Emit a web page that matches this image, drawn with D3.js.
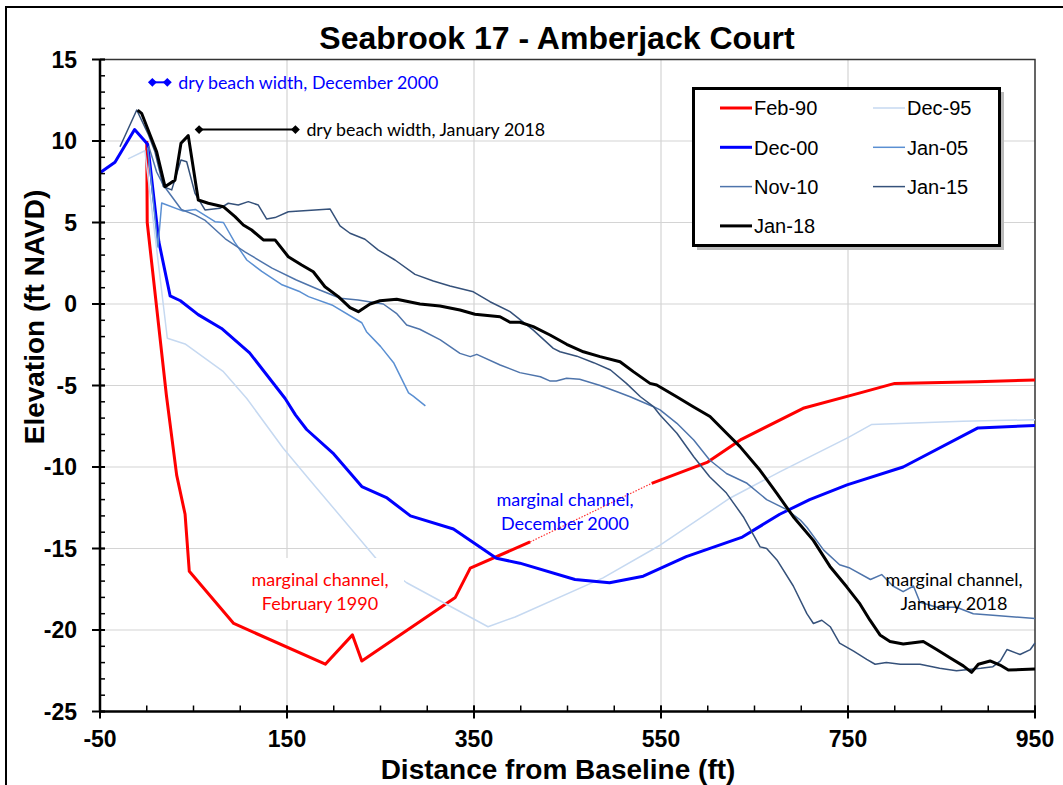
<!DOCTYPE html>
<html>
<head>
<meta charset="utf-8">
<script src="https://cdn.jsdelivr.net/npm/d3@7"></script>
<style>
  body { margin: 0; background: #fff; }
  svg { display: block; }
</style>
</head>
<body>
<div id="chart"></div>
<script>
// profile data, [distance ft, elevation ft NAVD]
const feb90 = [[0,10],[0.5,5],[21,-5.6],[32,-10.5],[41,-12.9],[45.5,-16.4],[93,-19.6],[191,-22.1],[220,-20.3],[230,-21.9],[330,-18.0],[346,-16.2],[410,-14.6],[540,-11.0],[600,-9.7],[636,-8.3],[702,-6.4],[763,-5.45],[800,-4.87],[888,-4.77],[950,-4.66]];
const feb90Dotted = [410, 540]; // stretch drawn dotted
const dec95 = [[-20,8.9],[-2,9.4],[22,-2.1],[41,-2.45],[82,-4.15],[107,-5.8],[146,-8.85],[173,-10.7],[248,-15.8],[278,-17.1],[365,-19.8],[394,-19.2],[488,-16.8],[549,-14.8],[624,-11.9],[677,-10.3],[750,-8.2],[775,-7.4],[873,-7.2],[950,-7.1]];
const dec00 = [[-50,8.05],[-34,8.7],[-13,10.7],[1,9.8],[13,3.8],[25,0.5],[36,0.2],[55,-0.65],[80,-1.5],[110,-3.0],[148,-5.8],[159,-6.8],[171,-7.7],[200,-9.2],[230,-11.2],[257,-11.9],[282,-13.0],[328,-13.8],[374,-15.6],[399,-15.9],[458,-16.9],[495,-17.1],[531,-16.7],[577,-15.5],[637,-14.3],[677,-12.9],[709,-12.0],[749,-11.1],[809,-10.0],[889,-7.6],[950,-7.45]];
const jan05 = [[1,9.6],[12,3.5],[16,6.2],[39,5.7],[52,5.8],[73,5.05],[82,5.0],[94,3.8],[107,2.7],[123,2.0],[144,1.2],[164,0.75],[173,0.45],[198,-0.06],[230,-1.15],[235,-1.7],[250,-2.6],[264,-3.6],[280,-5.45],[285,-5.65],[298,-6.25]];
const nov10 = [[2,9.7],[10.6,8.1],[17.7,7.3],[37,5.8],[52,5.45],[62,5.15],[84,4.0],[105,3.2],[134,2.2],[160,1.47],[185,0.86],[207,0.35],[226,0.25],[253,0.0],[267,-0.57],[278,-1.29],[292,-1.55],[314,-2.2],[335,-3.03],[346,-3.23],[353,-3.09],[378,-3.74],[399,-4.21],[421,-4.46],[431,-4.72],[438,-4.72],[449,-4.56],[463,-4.62],[485,-5.0],[503,-5.38],[517,-5.69],[542,-6.3],[549,-6.5],[567,-7.32],[585,-8.34],[602,-9.57],[620,-10.4],[642,-11.0],[663,-12.0],[677,-12.4],[684,-12.6],[699,-13.25],[706,-13.7],[724,-15.1],[741,-16.0],[752,-16.2],[774,-16.9],[786,-16.6],[798,-17.3],[809,-17.65],[820,-17.3],[827,-18.3],[845,-18.6],[866,-18.6],[884,-19.0],[905,-19.1],[950,-19.3]];
const jan15 = [[-28.6,9.65],[-10.7,11.9],[1.7,10.4],[8.8,9.34],[17.7,7.2],[26.7,7.0],[36.6,8.83],[42.7,8.73],[51.6,6.79],[62.3,5.77],[78.3,5.87],[87.2,6.18],[97.9,6.07],[108.6,6.28],[119.3,6.07],[128.3,5.21],[137.2,5.3],[151.4,5.66],[180,5.77],[196,5.83],[206.7,4.79],[217.4,4.34],[233.4,3.97],[247.7,3.31],[265.5,2.7],[286.9,1.82],[306.5,1.41],[324.3,1.1],[349.3,0.75],[367.1,0.14],[388.5,-0.47],[413.4,-1.6],[434.8,-2.72],[442,-2.93],[460,-3.2],[478,-3.6],[496,-4.05],[513,-4.87],[528,-5.69],[542,-6.3],[549,-6.81],[567,-7.93],[585,-9.37],[602,-10.6],[620,-11.6],[638,-13.05],[656,-14.9],[663,-15.0],[674,-15.7],[691.5,-17.3],[706,-19.0],[713,-19.6],[722,-19.4],[731,-19.8],[741,-20.8],[756,-21.3],[770,-21.8],[779,-22.1],[791,-22.0],[806,-22.1],[827,-22.1],[848,-22.35],[866,-22.5],[892,-22.35],[905,-22.25],[913,-21.9],[920,-21.2],[934,-21.5],[945,-21.2],[950,-20.8]];
const jan18 = [[-9.7,11.9],[-5.5,11.7],[10.6,9.34],[19.5,7.2],[30.2,7.6],[36.6,9.86],[44.4,10.33],[55.1,6.38],[65.8,6.18],[81.9,5.97],[94.4,5.36],[103.3,4.85],[112.2,4.54],[124.7,3.93],[137.2,3.93],[151.4,2.9],[165.7,2.39],[178.1,1.98],[190.6,1.06],[204.9,0.45],[217.4,-0.22],[226.3,-0.47],[238.8,0.0],[249.5,0.2],[267.3,0.29],[292.2,0.0],[313.6,-0.12],[335,-0.37],[351,-0.63],[377.8,-0.78],[388.5,-1.12],[399.2,-1.12],[413.4,-1.39],[431.3,-1.9],[449.1,-2.47],[467,-2.93],[484.8,-3.23],[506.2,-3.54],[520.4,-4.15],[538.2,-4.87],[545.4,-4.97],[566.8,-5.69],[584.5,-6.3],[602.4,-6.9],[620.2,-7.93],[634.5,-8.75],[655.9,-10.2],[673.7,-11.6],[691.5,-13.05],[712.9,-14.5],[730.7,-16.1],[748.6,-17.35],[762.8,-18.4],[773.5,-19.4],[784.2,-20.3],[794.9,-20.7],[809.1,-20.86],[830.5,-20.7],[844.8,-21.2],[859,-21.7],[873.3,-22.2],[882.2,-22.6],[889.4,-22.1],[902,-21.9],[912.6,-22.15],[921.5,-22.45],[950,-22.4]];

const seriesNames = ["Feb-90", "Dec-95", "Dec-00", "Jan-05", "Nov-10", "Jan-15", "Jan-18"];
const seriesData = [feb90, dec95, dec00, jan05, nov10, jan15, jan18];
const seriesColors = ["#ff0000", "#c6d9f1", "#0000ff", "#5a8fd2", "#4e74ab", "#35517a", "#000000"];
const seriesWidths = [3, 1.5, 3, 1.5, 1.5, 1.5, 3];

const dryBeach2000 = [[6, 13.6], [22, 13.6]];
const dryBeach2018 = [[56, 10.7], [159, 10.7]];

const xTicks = [-50, 150, 350, 550, 750, 950];
const yTicks = [15, 10, 5, 0, -5, -10, -15, -20, -25];

const W = 1063, H = 785;
const margin = { top: 59.5, right: 28, bottom: 73.5, left: 100 };
const width = W - margin.left - margin.right,
    height = H - margin.top - margin.bottom;

const svg = d3.select("#chart")
    .append("svg")
    .attr("width", W)
    .attr("height", H);

// outer chart border (runs off the right and bottom of the picture)
svg.append("rect")
    .attr("x", 6).attr("y", 7)
    .attr("width", W + 20).attr("height", H + 20)
    .attr("fill", "none")
    .attr("stroke", "#000")
    .attr("stroke-width", 2);

svg.append("text")
    .attr("x", 557).attr("y", 49)
    .attr("text-anchor", "middle")
    .style("font-family", "'Liberation Sans', Arial, sans-serif")
    .style("font-weight", "bold")
    .style("font-size", "32px")
    .text("Seabrook 17 - Amberjack Court");

const g = svg.append("g")
    .attr("transform", `translate(${margin.left},${margin.top})`);

const x = d3.scaleLinear().domain([-50, 950]).range([0, width]);
const y = d3.scaleLinear().domain([-25, 15]).range([height, 0]);

// gridlines
g.append("g")
    .selectAll("line")
    .data(d3.range(150, 950, 200))
    .enter()
    .append("line")
    .attr("x1", d => x(d)).attr("x2", d => x(d))
    .attr("y1", 0).attr("y2", height)
    .attr("stroke", "#d4d4d4")
    .attr("stroke-width", 1.2);

g.append("g")
    .selectAll("line")
    .data(d3.range(-20, 15, 5))
    .enter()
    .append("line")
    .attr("x1", 0).attr("x2", width)
    .attr("y1", d => y(d)).attr("y2", d => y(d))
    .attr("stroke", "#d4d4d4")
    .attr("stroke-width", 1.2);

// plot frame top and right
g.append("path")
    .attr("d", `M0,0H${width}V${height}`)
    .attr("fill", "none")
    .attr("stroke", "#333")
    .attr("stroke-width", 1.5);

const line = d3.line()
    .x(d => x(d[0]))
    .y(d => y(d[1]));

// series
seriesData.forEach((data, i) => {
    if (i === 0) {
        const a = data.filter(d => d[0] <= feb90Dotted[0]);
        const b = data.filter(d => d[0] >= feb90Dotted[0] && d[0] <= feb90Dotted[1]);
        const c = data.filter(d => d[0] >= feb90Dotted[1]);
        [a, c].forEach(part => {
            g.append("path")
                .attr("d", line(part))
                .attr("fill", "none")
                .attr("stroke", seriesColors[i])
                .attr("stroke-width", seriesWidths[i])
                .attr("stroke-linejoin", "round");
        });
        g.append("path")
            .attr("d", line(b))
            .attr("fill", "none")
            .attr("stroke", seriesColors[i])
            .attr("stroke-width", 1.2)
            .attr("stroke-dasharray", "1.5,1.5")
            .attr("opacity", 0.8);
    } else {
        g.append("path")
            .attr("d", line(data))
            .attr("fill", "none")
            .attr("stroke", seriesColors[i])
            .attr("stroke-width", seriesWidths[i])
            .attr("stroke-linejoin", "round");
    }
});

// axes
const yAxis = g.append("g");
yAxis.append("line")
    .attr("x1", 0).attr("x2", 0)
    .attr("y1", 0).attr("y2", height)
    .attr("stroke", "#000").attr("stroke-width", 2.5);
yAxis.selectAll(".minor")
    .data(d3.range(-25, 16, 1))
    .enter()
    .append("line")
    .attr("x1", 0).attr("x2", 5)
    .attr("y1", d => y(d)).attr("y2", d => y(d))
    .attr("stroke", "#000").attr("stroke-width", 1.5);
yAxis.selectAll(".major")
    .data(yTicks)
    .enter()
    .append("line")
    .attr("x1", -8).attr("x2", 5)
    .attr("y1", d => y(d)).attr("y2", d => y(d))
    .attr("stroke", "#000").attr("stroke-width", 2);
yAxis.selectAll("text")
    .data(yTicks)
    .enter()
    .append("text")
    .attr("x", -23)
    .attr("y", d => y(d))
    .attr("dy", "0.36em")
    .attr("text-anchor", "end")
    .style("font-family", "'Liberation Sans', Arial, sans-serif")
    .style("font-weight", "bold")
    .style("font-size", "23px")
    .text(d => d);

const xAxis = g.append("g").attr("transform", `translate(0,${height})`);
xAxis.append("line")
    .attr("x1", 0).attr("x2", width)
    .attr("stroke", "#000").attr("stroke-width", 2.5);
xAxis.selectAll(".minor")
    .data(d3.range(-50, 951, 50))
    .enter()
    .append("line")
    .attr("x1", d => x(d)).attr("x2", d => x(d))
    .attr("y1", 0).attr("y2", -6)
    .attr("stroke", "#000").attr("stroke-width", 1.5);
xAxis.selectAll(".major")
    .data(xTicks)
    .enter()
    .append("line")
    .attr("x1", d => x(d)).attr("x2", d => x(d))
    .attr("y1", 7).attr("y2", -6)
    .attr("stroke", "#000").attr("stroke-width", 2);
xAxis.selectAll("text")
    .data(xTicks)
    .enter()
    .append("text")
    .attr("x", d => x(d))
    .attr("y", 35.5)
    .attr("text-anchor", "middle")
    .style("font-family", "'Liberation Sans', Arial, sans-serif")
    .style("font-weight", "bold")
    .style("font-size", "23px")
    .text(d => d);

svg.append("text")
    .attr("x", 558).attr("y", 778.5)
    .attr("text-anchor", "middle")
    .style("font-family", "'Liberation Sans', Arial, sans-serif")
    .style("font-weight", "bold")
    .style("font-size", "28px")
    .text("Distance from Baseline (ft)");

svg.append("text")
    .attr("transform", "translate(44,317) rotate(-90)")
    .attr("text-anchor", "middle")
    .style("font-family", "'Liberation Sans', Arial, sans-serif")
    .style("font-weight", "bold")
    .style("font-size", "28px")
    .text("Elevation (ft NAVD)");

// annotations
const noteFont = "Lato, 'Open Sans', sans-serif";

function dryBeach(pts, color, label) {
    g.append("path")
        .attr("d", line(pts))
        .attr("stroke", color)
        .attr("stroke-width", 2);
    g.selectAll(null)
        .data(pts)
        .enter()
        .append("path")
        .attr("d", d3.symbol(d3.symbolDiamond2, 50))
        .attr("transform", d => `translate(${x(d[0])},${y(d[1])})`)
        .attr("fill", color);
    g.append("text")
        .attr("x", x(pts[1][0]) + 11)
        .attr("y", y(pts[1][1]))
        .attr("dy", "0.35em")
        .attr("fill", color)
        .style("font-family", noteFont)
        .style("font-size", "17.8px")
        .text(label);
}
dryBeach(dryBeach2000, "#0000ff", "dry beach width, December 2000");
dryBeach(dryBeach2018, "#000", "dry beach width, January 2018");

function channelNote(cx, cy, color, lines, boxed) {
    const t = svg.append("g");
    if (boxed) {
        t.append("rect")
            .attr("x", cx - 76).attr("y", cy - 22)
            .attr("width", 160).attr("height", 62)
            .attr("fill", "#fff");
    }
    lines.forEach((s, k) => {
        t.append("text")
            .attr("x", cx).attr("y", cy + k * 24)
            .attr("dy", "0.35em")
            .attr("text-anchor", "middle")
            .attr("fill", color)
            .style("font-family", noteFont)
            .style("font-size", "18px")
            .text(s);
    });
}
channelNote(320, 580, "#ff0000", ["marginal channel,", "February 1990"], true);
channelNote(565, 500, "#0000ff", ["marginal channel,", "December 2000"], false);
channelNote(954, 580, "#000", ["marginal channel,", "January 2018"], false);

// legend
const legend = svg.append("g");
legend.append("rect")
    .attr("x", 697).attr("y", 92)
    .attr("width", 307).attr("height", 158)
    .attr("fill", "#bbb");
legend.append("rect")
    .attr("x", 693.5).attr("y", 88.5)
    .attr("width", 306).attr("height", 157)
    .attr("fill", "#fff")
    .attr("stroke", "#000")
    .attr("stroke-width", 3);

seriesNames.forEach((name, i) => {
    const col = i % 2, row = Math.floor(i / 2);
    const lx = col === 0 ? 720 : 873;
    const ly = 108 + row * 39.3;
    legend.append("line")
        .attr("x1", lx).attr("x2", lx + 32)
        .attr("y1", ly).attr("y2", ly)
        .attr("stroke", seriesColors[i])
        .attr("stroke-width", seriesWidths[i]);
    legend.append("text")
        .attr("x", lx + 34)
        .attr("y", ly)
        .attr("dy", "0.36em")
        .style("font-family", "'Liberation Sans', Arial, sans-serif")
        .style("font-size", "20px")
        .text(name);
});
</script>
</body>
</html>
